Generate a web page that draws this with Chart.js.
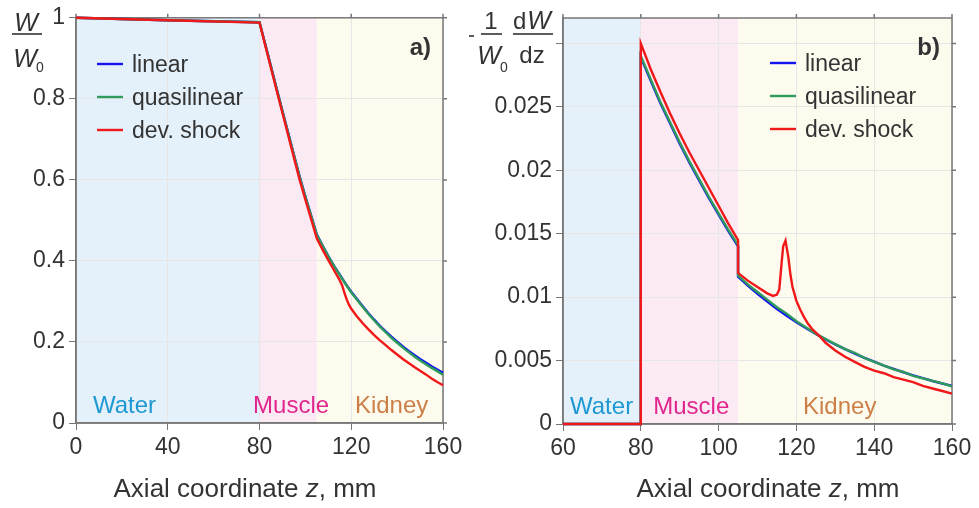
<!DOCTYPE html>
<html>
<head>
<meta charset="utf-8">
<script src="https://cdn.jsdelivr.net/npm/chart.js@4.4.1/dist/chart.umd.min.js"></script>
<style>
    html, body { margin: 0; padding: 0; background: #fff; }
    #wrap { position: relative; width: 979px; height: 508px; }
    #wrap canvas { position: absolute; left: 0; top: 0; }
</style>
</head>
<body>
<div id="wrap">
    <canvas id="chartA" width="979" height="508"></canvas>
    <canvas id="chartB" width="979" height="508"></canvas>
</div>
<script>
// --- Dati: pannello a) W/W0 ---
const zA = [0, 40, 80, 82.5, 85, 87.5, 90, 92.5, 95, 97.5, 100, 102.5, 105,
    107.5, 110, 112.5, 115, 117.5, 120, 122.5, 125, 127.5, 130, 132.5, 135,
    137.5, 140, 142.5, 145, 147.5, 150, 152.5, 155, 157.5, 160];
const linearA = [1.000, 0.994, 0.989, 0.935, 0.880, 0.825, 0.770, 0.716, 0.662, 0.608, 0.559, 0.512, 0.465,
    0.438, 0.412, 0.388, 0.366, 0.344, 0.324, 0.306, 0.288, 0.271, 0.255, 0.240, 0.226,
    0.213, 0.201, 0.189, 0.178, 0.168, 0.158, 0.149, 0.140, 0.132, 0.124];
const quasiA = [1.000, 0.994, 0.989, 0.934, 0.879, 0.824, 0.769, 0.715, 0.661, 0.607, 0.558, 0.511, 0.464,
    0.437, 0.411, 0.387, 0.365, 0.343, 0.322, 0.304, 0.286, 0.269, 0.253, 0.238, 0.224,
    0.210, 0.198, 0.186, 0.175, 0.164, 0.154, 0.145, 0.136, 0.128, 0.119];
const zShockA = [0, 40, 80, 82.5, 85, 87.5, 90, 92.5, 95, 97.5, 100, 102.5, 105,
    107.5, 110, 112.5, 115, 116, 117, 118, 119, 120, 122.5, 125, 127.5, 130, 132.5, 135,
    137.5, 140, 142.5, 145, 147.5, 150, 152.5, 155, 157.5, 160];
const shockA = [1.000, 0.994, 0.988, 0.932, 0.876, 0.820, 0.765, 0.710, 0.655, 0.600, 0.551, 0.503, 0.455,
    0.428, 0.402, 0.377, 0.352, 0.340, 0.322, 0.305, 0.292, 0.282, 0.263, 0.246, 0.231, 0.217, 0.204, 0.192,
    0.180, 0.169, 0.158, 0.148, 0.138, 0.129, 0.120, 0.110, 0.101, 0.093];

// --- Dati: pannello b) -1/W0 dW/dz ---
const zB = [60, 80, 80, 82.5, 85, 87.5, 90, 92.5, 95, 97.5, 100, 102.5, 105,
    105, 107.5, 110, 112.5, 115, 117.5, 120, 122.5, 125, 127.5, 130, 132.5, 135,
    137.5, 140, 142.5, 145, 147.5, 150, 152.5, 155, 157.5, 160];
const linearB = [0, 0, 0.0289, 0.0271, 0.0253, 0.0237, 0.0221, 0.0206, 0.0192, 0.0178, 0.0165, 0.0152, 0.0140,
    0.0116, 0.0109, 0.01026, 0.00965, 0.00907, 0.00853, 0.00802, 0.00754, 0.00709, 0.00667, 0.00627, 0.0059, 0.00555,
    0.00522, 0.00491, 0.00461, 0.00434, 0.00408, 0.00384, 0.00361, 0.00339, 0.00319, 0.0030];
const quasiB = [0, 0, 0.0290, 0.0272, 0.0254, 0.0238, 0.0222, 0.0207, 0.0193, 0.0179, 0.0166, 0.0153, 0.0141,
    0.0117, 0.0110, 0.0104, 0.0098, 0.0092, 0.0087, 0.0081, 0.0076, 0.0071, 0.0067, 0.0063, 0.0059, 0.0056,
    0.0052, 0.0049, 0.0046, 0.0043, 0.0041, 0.0038, 0.0036, 0.0034, 0.0032, 0.00297];
const zShockB = [60, 80, 80, 82.5, 85, 87.5, 90, 92.5, 95, 97.5, 100, 102.5, 105,
    105, 107.5, 110, 112.5, 114, 115, 115.6, 116.2, 116.6, 117.2, 117.9, 118.5, 119, 120,
    121, 122, 123, 124, 125, 126, 127.5, 130, 132.5, 135, 137.5, 140, 142.5, 145,
    147.5, 150, 152.5, 155, 157.5, 160];
const shockB = [0, 0, 0.0300, 0.0280, 0.0262, 0.0245, 0.0229, 0.0214, 0.0200, 0.0186, 0.0172, 0.0158, 0.0145,
    0.0119, 0.0113, 0.0108, 0.0103, 0.0101, 0.0102, 0.0106, 0.0127, 0.0140, 0.01446, 0.0132, 0.0117, 0.0108, 0.0097,
    0.0090, 0.0084, 0.0079, 0.0075, 0.0072, 0.0069, 0.0064, 0.0058, 0.0053, 0.0049, 0.0045, 0.0042, 0.0040, 0.0037,
    0.0035, 0.0033, 0.0030, 0.0028, 0.0026, 0.0024];

// --- Tessuti ---
const tissueNames = ['Water', 'Muscle', 'Kidney'];
const tissueStart = [0, 80, 105];
const tissueEnd = [80, 105, 160];
const seriesNames = ['linear', 'quasilinear', 'dev. shock'];

const FONT = "'Liberation Sans', Arial, Helvetica, sans-serif";
const TEXT = '#333333';
const AXIS = '#777777';
const GRID = '#e6e6e6';
const SERIES_COLORS = ['#1414f0', '#2e9a5c', '#f01818'];
const TISSUE_FILL = ['#e4f1fa', '#fbe9f3', '#fdfbee'];
const TISSUE_TEXT = ['#1e98d3', '#e0268d', '#cc8048'];

function toPoints(zs, vs) {
    return zs.map((z, i) => ({ x: z, y: vs[i] }));
}

function dataset(i, zs, vs) {
    return {
        label: seriesNames[i],
        data: toPoints(zs, vs),
        borderColor: SERIES_COLORS[i],
        borderWidth: 2.4,
        pointRadius: 0,
        tension: 0,
        fill: false,
        clip: 3,
        order: 3 - i
    };
}

// testo misto normale/corsivo centrato
function mixedText(ctx, parts, cx, y, size) {
    let w = 0;
    parts.forEach(p => {
        ctx.font = (p.italic ? 'italic ' : '') + size + 'px ' + FONT;
        p.w = ctx.measureText(p.t).width;
        w += p.w;
    });
    let x = cx - w / 2;
    ctx.textAlign = 'left';
    parts.forEach(p => {
        ctx.font = (p.italic ? 'italic ' : '') + size + 'px ' + FONT;
        ctx.fillText(p.t, x, y);
        x += p.w;
    });
}

const panelPlugin = {
    id: 'panel',
    beforeDraw(chart) {
        const { ctx, chartArea: a, scales: { x } } = chart;
        ctx.save();
        tissueNames.forEach((n, i) => {
            const x0 = x.getPixelForValue(Math.max(tissueStart[i], x.min));
            const x1 = x.getPixelForValue(tissueEnd[i]);
            ctx.fillStyle = TISSUE_FILL[i];
            ctx.fillRect(x0, a.top, x1 - x0, a.bottom - a.top);
        });
        ctx.restore();
    },
    beforeDatasetsDraw(chart) {
        // cornice e tacche alto/destra, sotto le curve
        const { ctx, chartArea: a, scales: { x, y } } = chart;
        ctx.save();
        ctx.strokeStyle = AXIS;
        ctx.lineWidth = 1.5;
        ctx.strokeRect(a.left, a.top, a.right - a.left, a.bottom - a.top);
        ctx.beginPath();
        x.ticks.forEach(t => {
            const px = x.getPixelForValue(t.value);
            ctx.moveTo(px, a.top);
            ctx.lineTo(px, a.top - 4);
        });
        y.ticks.forEach(t => {
            const py = y.getPixelForValue(t.value);
            ctx.moveTo(a.right, py);
            ctx.lineTo(a.right + 4, py);
        });
        ctx.stroke();
        ctx.restore();
    },
    afterDraw(chart, args, opts) {
        const { ctx, chartArea: a, scales: { x } } = chart;
        ctx.save();

        // nomi dei tessuti
        ctx.font = '24px ' + FONT;
        ctx.textAlign = 'left';
        ctx.textBaseline = 'alphabetic';
        tissueNames.forEach((n, i) => {
            ctx.fillStyle = TISSUE_TEXT[i];
            ctx.fillText(n, x.getPixelForValue(opts.labelZ[i]), a.bottom - 10);
        });

        // legenda
        ctx.font = '23px ' + FONT;
        ctx.lineWidth = 2.4;
        seriesNames.forEach((n, i) => {
            const ly = opts.legendY + i * 33;
            ctx.strokeStyle = SERIES_COLORS[i];
            ctx.beginPath();
            ctx.moveTo(opts.legendX, ly);
            ctx.lineTo(opts.legendX + 26, ly);
            ctx.stroke();
            ctx.fillStyle = TEXT;
            ctx.fillText(n, opts.legendX + 35, ly + 8);
        });

        // lettera del pannello
        ctx.font = 'bold 24px ' + FONT;
        ctx.textAlign = 'right';
        ctx.fillText(opts.letter, a.right - 12, a.top + 37);

        // titolo asse x
        ctx.fillStyle = TEXT;
        mixedText(ctx, [{ t: 'Axial coordinate ' }, { t: 'z', italic: true }, { t: ', mm' }],
            opts.titleX, 497, 26);

        opts.yLabel(ctx);
        ctx.restore();
    }
};

function fracLine(ctx, x0, x1, yy) {
    ctx.fillRect(x0, yy - 0.8, x1 - x0, 1.6);
}

function yLabelA(ctx) {
    ctx.fillStyle = TEXT;
    ctx.textAlign = 'center';
    ctx.font = 'italic 25px ' + FONT;
    ctx.fillText('W', 26, 31);
    fracLine(ctx, 12, 42, 34);
    ctx.fillText('W', 25, 67);
    ctx.font = '14px ' + FONT;
    ctx.fillText('0', 40, 72);
}

function yLabelB(ctx) {
    ctx.fillStyle = TEXT;
    fracLine(ctx, 469, 474, 36);
    ctx.textAlign = 'center';
    ctx.font = '24px ' + FONT;
    ctx.fillText('1', 491, 29);
    fracLine(ctx, 481, 502, 34);
    ctx.font = 'italic 25px ' + FONT;
    ctx.fillText('W', 489, 64);
    ctx.font = '14px ' + FONT;
    ctx.fillText('0', 504, 72);
    ctx.textAlign = 'left';
    ctx.font = '24px ' + FONT;
    ctx.fillText('d', 513, 29);
    const dw = ctx.measureText('d').width;
    ctx.font = 'italic 25px ' + FONT;
    ctx.fillText('W', 513 + dw + 1, 29);
    fracLine(ctx, 513, 553, 34);
    ctx.textAlign = 'center';
    ctx.font = '24px ' + FONT;
    ctx.fillText('dz', 532, 63);
}

function axisOptions(min, max, step, fit, tickCb) {
    const ticks = { stepSize: step, color: TEXT, font: { family: FONT, size: 23 }, padding: 4,
        includeBounds: false };
    if (tickCb) ticks.callback = tickCb;
    return {
        type: 'linear',
        min: min,
        max: max,
        grid: { color: GRID, lineWidth: 1, tickColor: AXIS, tickLength: 7 },
        border: { color: AXIS, width: 1.5 },
        ticks: ticks,
        afterFit: fit
    };
}

Chart.defaults.font.family = FONT;

new Chart(document.getElementById('chartA'), {
    type: 'line',
    data: { datasets: [
        dataset(0, zA, linearA),
        dataset(1, zA, quasiA),
        dataset(2, zShockA, shockA)
    ] },
    options: {
        responsive: false,
        animation: false,
        layout: { padding: { left: 0, top: 16, right: 979 - 443, bottom: 0 } },
        plugins: {
            legend: { display: false },
            tooltip: { enabled: false },
            panel: { letter: 'a)', labelZ: [7.4, 77.2, 121.6], legendX: 97, legendY: 64,
                titleX: 245, yLabel: yLabelA }
        },
        scales: {
            x: axisOptions(0, 160, 40, s => { s.height = 85; }),
            y: axisOptions(0, 1, 0.2, s => { s.width = 76; }, v => String(Math.round(v * 10) / 10))
        }
    },
    plugins: [panelPlugin]
});

new Chart(document.getElementById('chartB'), {
    type: 'line',
    data: { datasets: [
        dataset(0, zB, linearB),
        dataset(1, zB, quasiB),
        dataset(2, zShockB, shockB)
    ] },
    options: {
        responsive: false,
        animation: false,
        layout: { padding: { left: 490, top: 18, right: 979 - 952, bottom: 0 } },
        plugins: {
            legend: { display: false },
            tooltip: { enabled: false },
            panel: { letter: 'b)', labelZ: [61.8, 83.2, 121.7], legendX: 770, legendY: 63,
                titleX: 768, yLabel: yLabelB }
        },
        scales: {
            x: axisOptions(60, 160, 20, s => { s.height = 84; }),
            y: axisOptions(0, 0.032, 0.005, s => { s.width = 73; },
                v => Math.abs(v - 0.03) < 1e-9 ? '' : String(Math.round(v * 1000) / 1000))
        }
    },
    plugins: [panelPlugin]
});
</script>
</body>
</html>
